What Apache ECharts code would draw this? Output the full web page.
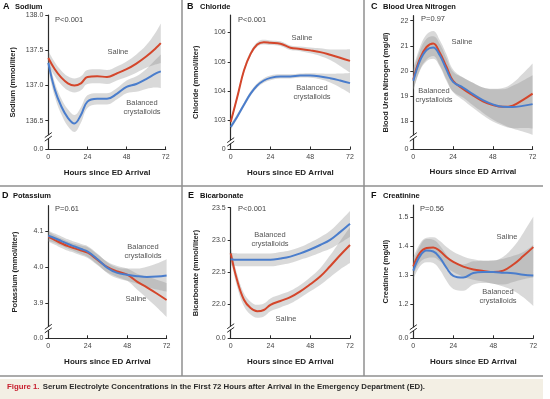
<!DOCTYPE html>
<html>
<head>
<meta charset="utf-8">
<script src="https://cdn.jsdelivr.net/npm/echarts@6.0.0/dist/echarts.min.js"></script>
<style>
html, body { margin: 0; padding: 0; background: #fff; }
#chart { width: 550px; height: 399px; }
</style>
</head>
<body>
<div id="chart"></div>
<script>
// hours since ED arrival
var hours = [0, 4, 8, 12, 16, 20, 24, 30, 36, 42, 48, 54, 60, 66, 72];
var hoursNa = [0, 4, 8, 12, 16, 20, 24, 30, 36, 42, 48, 54, 60, 66, 69];

// A sodium
var naTicks = [136.5, 137.0, 137.5, 138.0];
var naSaline = [137.39, 137.23, 137.11, 137.03, 137.00, 137.03, 137.12, 137.13, 137.12, 137.17, 137.23, 137.31, 137.41, 137.53, 137.60];
var naSalineLo = [137.29, 137.13, 137.01, 136.93, 136.90, 136.93, 137.02, 137.03, 137.02, 137.07, 137.12, 137.18, 137.25, 137.30, 137.32];
var naSalineHi = [137.49, 137.33, 137.21, 137.13, 137.10, 137.13, 137.22, 137.23, 137.22, 137.27, 137.34, 137.44, 137.57, 137.76, 137.88];
var naBal = [137.32, 136.94, 136.70, 136.54, 136.46, 136.58, 136.77, 136.81, 136.81, 136.88, 136.98, 137.02, 137.09, 137.17, 137.20];
var naBalLo = [137.22, 136.84, 136.59, 136.42, 136.34, 136.47, 136.68, 136.73, 136.73, 136.80, 136.89, 136.91, 136.95, 136.97, 136.96];
var naBalHi = [137.42, 137.04, 136.81, 136.66, 136.58, 136.69, 136.86, 136.89, 136.89, 136.96, 137.07, 137.13, 137.23, 137.37, 137.44];

// B chloride
var clTicks = [103, 104, 105, 106];
var clSaline = [102.94, 103.80, 104.70, 105.27, 105.59, 105.67, 105.65, 105.62, 105.48, 105.44, 105.39, 105.33, 105.24, 105.14, 105.03];
var clSalineLo = [102.84, 103.72, 104.62, 105.19, 105.51, 105.59, 105.57, 105.54, 105.40, 105.36, 105.29, 105.20, 105.06, 104.86, 104.63];
var clSalineHi = [103.04, 103.88, 104.78, 105.35, 105.67, 105.75, 105.73, 105.70, 105.56, 105.52, 105.49, 105.46, 105.42, 105.42, 105.43];
var clBal = [102.77, 103.13, 103.53, 103.91, 104.19, 104.36, 104.45, 104.50, 104.50, 104.53, 104.53, 104.50, 104.44, 104.36, 104.27];
var clBalLo = [102.67, 103.05, 103.45, 103.83, 104.11, 104.28, 104.37, 104.43, 104.43, 104.46, 104.45, 104.40, 104.29, 104.12, 103.92];
var clBalHi = [102.87, 103.21, 103.61, 103.99, 104.27, 104.44, 104.53, 104.57, 104.57, 104.60, 104.61, 104.60, 104.59, 104.60, 104.62];

// C blood urea nitrogen
var bunTicks = [18, 19, 20, 21, 22];
var bunSaline = [19.65, 20.49, 20.95, 21.09, 20.72, 20.16, 19.60, 19.28, 19.02, 18.78, 18.63, 18.56, 18.61, 18.83, 19.09];
var bunSalineLo = [19.20, 20.04, 20.45, 20.59, 20.22, 19.66, 19.15, 18.83, 18.52, 18.23, 17.98, 17.81, 17.71, 17.72, 17.70];
var bunSalineHi = [20.10, 20.94, 21.45, 21.59, 21.22, 20.66, 20.05, 19.73, 19.52, 19.33, 19.28, 19.31, 19.51, 19.88, 20.29];
var bunBal = [19.60, 20.40, 20.83, 20.93, 20.62, 20.05, 19.56, 19.33, 19.07, 18.83, 18.66, 18.56, 18.55, 18.60, 18.67];
var bunBalLo = [19.20, 20.00, 20.38, 20.48, 20.17, 19.60, 19.16, 18.93, 18.62, 18.33, 18.06, 17.86, 17.70, 17.58, 17.45];
var bunBalHi = [20.00, 20.80, 21.28, 21.38, 21.07, 20.50, 19.96, 19.73, 19.52, 19.33, 19.26, 19.26, 19.40, 19.60, 19.82];

// D potassium
var kTicks = [3.9, 4.0, 4.1];
var kSaline = [4.084, 4.075, 4.066, 4.058, 4.052, 4.046, 4.040, 4.020, 4.000, 3.988, 3.979, 3.960, 3.944, 3.927, 3.909];
var kSalineLo = [4.070, 4.062, 4.053, 4.045, 4.039, 4.032, 4.025, 4.005, 3.985, 3.973, 3.962, 3.938, 3.914, 3.889, 3.862];
var kSalineHi = [4.098, 4.088, 4.079, 4.071, 4.065, 4.060, 4.055, 4.035, 4.015, 4.003, 3.996, 3.982, 3.974, 3.965, 3.956];
var kBal = [4.087, 4.080, 4.072, 4.064, 4.057, 4.050, 4.043, 4.022, 3.998, 3.984, 3.979, 3.975, 3.973, 3.974, 3.977];
var kBalLo = [4.073, 4.067, 4.059, 4.051, 4.044, 4.036, 4.028, 4.007, 3.983, 3.969, 3.962, 3.954, 3.945, 3.938, 3.932];
var kBalHi = [4.101, 4.093, 4.085, 4.077, 4.070, 4.064, 4.058, 4.037, 4.013, 3.999, 3.996, 3.996, 4.001, 4.010, 4.022];

// E bicarbonate
var hco3Ticks = [22.0, 22.5, 23.0, 23.5];
var hco3Saline = [22.79, 22.36, 22.07, 21.94, 21.89, 21.91, 21.99, 22.05, 22.11, 22.20, 22.31, 22.43, 22.59, 22.76, 22.92];
var hco3SalineLo = [22.69, 22.26, 21.97, 21.84, 21.79, 21.81, 21.89, 21.95, 22.01, 22.10, 22.20, 22.30, 22.42, 22.54, 22.64];
var hco3SalineHi = [22.89, 22.46, 22.17, 22.04, 21.99, 22.01, 22.09, 22.15, 22.21, 22.30, 22.42, 22.56, 22.76, 22.98, 23.20];
var hco3Bal = [22.70, 22.69, 22.69, 22.69, 22.69, 22.69, 22.69, 22.71, 22.74, 22.79, 22.85, 22.92, 23.00, 23.12, 23.25];
var hco3BalLo = [22.60, 22.59, 22.59, 22.59, 22.59, 22.59, 22.59, 22.61, 22.64, 22.69, 22.74, 22.80, 22.86, 22.95, 23.05];
var hco3BalHi = [22.80, 22.79, 22.79, 22.79, 22.79, 22.79, 22.79, 22.81, 22.84, 22.89, 22.96, 23.04, 23.14, 23.29, 23.45];

// F creatinine
var crTicks = [1.2, 1.3, 1.4, 1.5];
var crSaline = [1.331, 1.377, 1.394, 1.396, 1.383, 1.362, 1.346, 1.330, 1.320, 1.315, 1.311, 1.316, 1.337, 1.366, 1.397];
var crSalineLo = [1.301, 1.345, 1.359, 1.361, 1.348, 1.327, 1.311, 1.295, 1.285, 1.279, 1.271, 1.268, 1.277, 1.286, 1.292];
var crSalineHi = [1.361, 1.409, 1.429, 1.431, 1.418, 1.397, 1.381, 1.365, 1.355, 1.351, 1.351, 1.364, 1.397, 1.446, 1.502];
var crBal = [1.316, 1.366, 1.385, 1.382, 1.360, 1.325, 1.298, 1.292, 1.308, 1.311, 1.311, 1.309, 1.307, 1.302, 1.299];
var crBalLo = [1.286, 1.331, 1.345, 1.342, 1.318, 1.280, 1.253, 1.247, 1.268, 1.273, 1.271, 1.261, 1.247, 1.224, 1.194];
var crBalHi = [1.346, 1.401, 1.425, 1.422, 1.402, 1.370, 1.343, 1.337, 1.348, 1.349, 1.351, 1.357, 1.367, 1.380, 1.404];

var FONT = '"Liberation Sans", Arial, sans-serif';
var RED = '#d4462b', BLUE = '#4a7dcc', BAND = 'rgba(140,140,140,0.33)';

var panels = [
    { h: hoursNa, s: naSaline, sLo: naSalineLo, sHi: naSalineHi, b: naBal, bLo: naBalLo, bHi: naBalHi,
      ticks: naTicks, min: 136.09, max: 138.0, dec: 1, zero: '0.0', brk: 136.27, name: 'Sodium (mmol/liter)',
      grid: { left: 48.3, top: 15, width: 117.4, height: 134.5 }, nameGap: 31 },
    { h: hours, s: clSaline, sLo: clSalineLo, sHi: clSalineHi, b: clBal, bLo: clBalLo, bHi: clBalHi,
      ticks: clTicks, min: 102.0, max: 106.6, dec: 0, zero: '0', brk: 102.26, name: 'Chloride (mmol/liter)',
      grid: { left: 230.7, top: 15, width: 119.3, height: 134.5 }, nameGap: 31 },
    { h: hours, s: bunSaline, sLo: bunSalineLo, sHi: bunSalineHi, b: bunBal, bLo: bunBalLo, bHi: bunBalHi,
      ticks: bunTicks, min: 16.87, max: 22.2, dec: 0, zero: '0', brk: 17.36, name: 'Blood Urea Nitrogen (mg/dl)',
      grid: { left: 413.3, top: 15.7, width: 119.3, height: 133.5 }, nameGap: 23 },
    { h: hours, s: kSaline, sLo: kSalineLo, sHi: kSalineHi, b: kBal, bLo: kBalLo, bHi: kBalHi,
      ticks: kTicks, min: 3.803, max: 4.17, dec: 1, zero: '0.0', brk: 3.83, name: 'Potassium (mmol/liter)',
      grid: { left: 48.3, top: 205.7, width: 118.3, height: 132.6 }, nameGap: 29 },
    { h: hours, s: hco3Saline, sLo: hco3SalineLo, sHi: hco3SalineHi, b: hco3Bal, bLo: hco3BalLo, bHi: hco3BalHi,
      ticks: hco3Ticks, min: 21.47, max: 23.5, dec: 1, zero: '0.0', brk: 21.63, name: 'Bicarbonate (mmol/liter)',
      grid: { left: 230.7, top: 207.7, width: 119.3, height: 130.6 }, nameGap: 31 },
    { h: hours, s: crSaline, sLo: crSalineLo, sHi: crSalineHi, b: crBal, bLo: crBalLo, bHi: crBalHi,
      ticks: crTicks, min: 1.083, max: 1.542, dec: 1, zero: '0.0', brk: 1.115, name: 'Creatinine (mg/dl)',
      grid: { left: 413.3, top: 205, width: 120, height: 133.3 }, nameGap: 23 }
];

function pairs(h, v) {
    return h.map(function (x, i) { return [x, v[i]]; });
}
// value first, hour second: the first column is the one that gets stacked
function lowRows(h, lo) {
    return h.map(function (x, i) { return [lo[i], x]; });
}
function spanRows(h, lo, hi) {
    return h.map(function (x, i) { return [+(hi[i] - lo[i]).toFixed(4), x]; });
}

var grids = [], xAxes = [], yAxes = [], series = [];

panels.forEach(function (p, i) {
    var g = p.grid;
    grids.push({ left: g.left, top: g.top, width: g.width, height: g.height, outerBoundsMode: 'none', containLabel: false });
    var axisLine = { show: true, onZero: false, lineStyle: { color: '#2b2b2b', width: 1.2 } };
    xAxes.push({
        type: 'value', gridIndex: i, min: 0, max: 72, interval: 24,
        axisLine: axisLine,
        axisTick: { show: true, inside: true, length: 3, lineStyle: { color: '#2b2b2b' } },
        axisLabel: { fontSize: 7, color: '#444', margin: 4, fontFamily: FONT },
        splitLine: { show: false },
        name: 'Hours since ED Arrival', nameLocation: 'middle', nameGap: 19,
        nameTextStyle: { fontSize: 8, fontWeight: 'bold', color: '#222', fontFamily: FONT }
    });
    var vals = [p.min].concat(p.ticks);
    yAxes.push({
        type: 'value', gridIndex: i, min: p.min, max: p.max,
        axisLine: axisLine,
        axisTick: { show: true, length: 3, customValues: vals, lineStyle: { color: '#2b2b2b' } },
        axisLabel: {
            customValues: vals, fontSize: 7, color: '#444', margin: 5, fontFamily: FONT,
            formatter: function (v) { return Math.abs(v - p.min) < 1e-9 ? p.zero : v.toFixed(p.dec); }
        },
        splitLine: { show: false },
        name: p.name, nameLocation: 'middle', nameGap: p.nameGap,
        nameTextStyle: { fontSize: 7.5, fontWeight: 'bold', color: '#222', fontFamily: FONT }
    });

    var common = { type: 'line', xAxisIndex: i, yAxisIndex: i, smooth: 0.4, symbol: 'none', silent: true };
    [[p.sLo, p.sHi, 's'], [p.bLo, p.bHi, 'b']].forEach(function (band) {
        series.push(Object.assign({}, common, {
            stack: band[2] + i, stackStrategy: 'all', encode: { x: 1, y: 0 },
            data: lowRows(p.h, band[0]), lineStyle: { opacity: 0 }, z: 1
        }));
        series.push(Object.assign({}, common, {
            stack: band[2] + i, stackStrategy: 'all', encode: { x: 1, y: 0 },
            data: spanRows(p.h, band[0], band[1]), lineStyle: { opacity: 0 },
            areaStyle: { color: BAND, opacity: 1 }, z: 1
        }));
    });
    series.push(Object.assign({}, common, { data: pairs(p.h, p.s), lineStyle: { color: RED, width: 2 }, z: 3 }));
    series.push(Object.assign({}, common, { data: pairs(p.h, p.b), lineStyle: { color: BLUE, width: 2 }, z: 3 }));
});

var chart = echarts.init(document.getElementById('chart'), null, { renderer: 'canvas' });
chart.setOption({
    animation: false,
    backgroundColor: '#fff',
    grid: grids,
    xAxis: xAxes,
    yAxis: yAxes,
    series: series
});

function txt(text, x, y, opts) {
    opts = opts || {};
    return {
        type: 'text', z: 50,
        style: {
            text: text, x: x, y: y,
            fontSize: opts.size || 7.5, fontWeight: opts.weight || 'normal', fontFamily: FONT,
            fill: opts.color || '#555', align: opts.align || 'left', verticalAlign: 'middle'
        }
    };
}
function line(x1, y1, x2, y2) {
    return { type: 'line', z: 40, shape: { x1: x1, y1: y1, x2: x2, y2: y2 }, style: { stroke: '#8f8f8f', lineWidth: 1.5 } };
}

var graphics = [
    { type: 'rect', z: 0, shape: { x: 0, y: 379, width: 543, height: 20 }, style: { fill: '#f3efe4' } },
    line(182, 0, 182, 376), line(364, 0, 364, 376), line(0, 186, 543, 186), line(0, 376, 543, 376),
    {
        type: 'text', z: 50,
        style: {
            text: '{r|Figure 1.} {b|Serum Electrolyte Concentrations in the First 72 Hours after Arrival in the Emergency Department (ED).}',
            x: 7, y: 387, verticalAlign: 'middle',
            rich: {
                r: { fill: '#c8202f', fontSize: 7.8, fontWeight: 'bold', fontFamily: FONT },
                b: { fill: '#2a2a2a', fontSize: 7.8, fontWeight: 'bold', fontFamily: FONT }
            }
        }
    },
    // panel titles
    txt('A', 3, 7, { size: 9, weight: 'bold', color: '#111' }), txt('Sodium', 15, 7, { weight: 'bold', color: '#111' }),
    txt('B', 187, 7, { size: 9, weight: 'bold', color: '#111' }), txt('Chloride', 200, 7, { weight: 'bold', color: '#111' }),
    txt('C', 371, 7, { size: 9, weight: 'bold', color: '#111' }), txt('Blood Urea Nitrogen', 383, 7, { weight: 'bold', color: '#111' }),
    txt('D', 2, 195.5, { size: 9, weight: 'bold', color: '#111' }), txt('Potassium', 13, 195.5, { weight: 'bold', color: '#111' }),
    txt('E', 188, 195.5, { size: 9, weight: 'bold', color: '#111' }), txt('Bicarbonate', 200, 195.5, { weight: 'bold', color: '#111' }),
    txt('F', 371, 195.5, { size: 9, weight: 'bold', color: '#111' }), txt('Creatinine', 383, 195.5, { weight: 'bold', color: '#111' }),
    // P values
    txt('P<0.001', 55, 20, { color: '#444' }), txt('P<0.001', 238, 20, { color: '#444' }), txt('P=0.97', 421, 19, { color: '#444' }),
    txt('P=0.61', 55, 209, { color: '#444' }), txt('P<0.001', 238, 209, { color: '#444' }), txt('P=0.56', 420, 209, { color: '#444' }),
    // series labels
    txt('Saline', 118, 52, { align: 'center' }), txt('Balanced', 142, 103, { align: 'center' }), txt('crystalloids', 142, 112, { align: 'center' }),
    txt('Saline', 302, 38, { align: 'center' }), txt('Balanced', 312, 88, { align: 'center' }), txt('crystalloids', 312, 97, { align: 'center' }),
    txt('Saline', 462, 42, { align: 'center' }), txt('Balanced', 434, 91, { align: 'center' }), txt('crystalloids', 434, 100, { align: 'center' }),
    txt('Balanced', 143, 247, { align: 'center' }), txt('crystalloids', 143, 256, { align: 'center' }), txt('Saline', 136, 299, { align: 'center' }),
    txt('Balanced', 270, 235, { align: 'center' }), txt('crystalloids', 270, 244, { align: 'center' }), txt('Saline', 286, 319, { align: 'center' }),
    txt('Saline', 507, 237, { align: 'center' }), txt('Balanced', 498, 292, { align: 'center' }), txt('crystalloids', 498, 301, { align: 'center' })
];

// axis break marks, placed through each panel's own scale
panels.forEach(function (p, i) {
    var pt = chart.convertToPixel({ xAxisIndex: i, yAxisIndex: i }, [0, p.brk]);
    graphics.push({ type: 'rect', z: 60, shape: { x: pt[0] - 2, y: pt[1] - 1.6, width: 4, height: 3.2 }, style: { fill: '#fff' } });
    [-1.8, 1.8].forEach(function (d) {
        graphics.push({
            type: 'line', z: 61,
            shape: { x1: pt[0] - 3.5, y1: pt[1] + d + 2.5, x2: pt[0] + 3.5, y2: pt[1] + d - 2.5 },
            style: { stroke: '#2b2b2b', lineWidth: 1 }
        });
    });
});

chart.setOption({ graphic: graphics });
</script>
</body>
</html>
